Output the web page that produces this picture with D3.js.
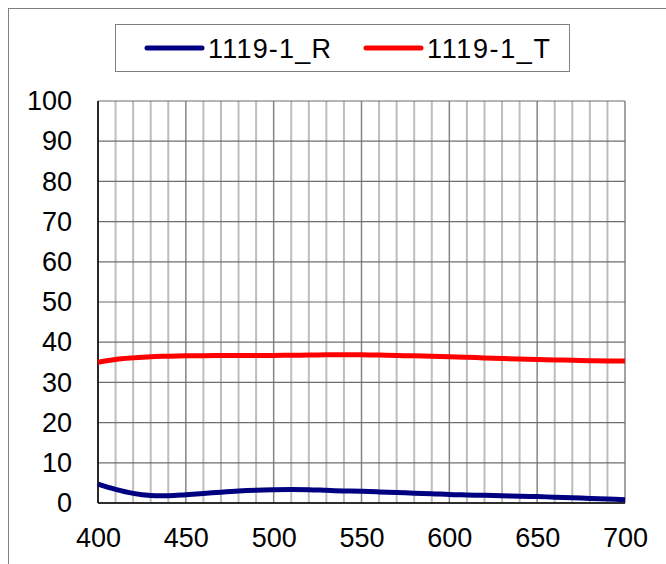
<!DOCTYPE html>
<html>
<head>
<meta charset="utf-8">
<script src="https://cdn.jsdelivr.net/npm/d3@7"></script>
<style>
  html, body { margin: 0; padding: 0; background: #fff; }
  svg { display: block; font-family: "Liberation Sans", Arial, sans-serif; }
</style>
</head>
<body>
<svg id="chart" width="666" height="564"></svg>
<script>
// Wavelength (nm) sample points
const wavelengths = [400, 410, 420, 430, 440, 450, 460, 470, 480, 490, 500, 510, 520, 530, 540, 550, 560, 570, 580, 590, 600, 610, 620, 630, 640, 650, 660, 670, 680, 690, 700];
// Reflectance (%)
const reflectR = [4.7, 3.4, 2.4, 1.85, 1.8, 2.05, 2.35, 2.7, 3.0, 3.2, 3.3, 3.35, 3.3, 3.15, 3.0, 2.9, 2.75, 2.6, 2.45, 2.3, 2.1, 2.0, 1.9, 1.8, 1.7, 1.6, 1.45, 1.3, 1.15, 1.0, 0.8];
// Transmittance (%)
const transT = [35.0, 35.7, 36.1, 36.4, 36.5, 36.6, 36.65, 36.7, 36.7, 36.7, 36.7, 36.75, 36.8, 36.85, 36.9, 36.85, 36.8, 36.7, 36.6, 36.5, 36.4, 36.25, 36.1, 35.95, 35.8, 35.7, 35.6, 35.5, 35.4, 35.35, 35.3];
const seriesNames = ["1119-1_R", "1119-1_T"];
const seriesColors = ["#000080", "#ff0000"];
const yTicks = [0, 10, 20, 30, 40, 50, 60, 70, 80, 90, 100];
const xTicks = [400, 450, 500, 550, 600, 650, 700];
const xMinor = d3.range(400, 701, 10);

const svg = d3.select("#chart");
const plot = { left: 98, right: 625, top: 101, bottom: 503 };

const x = d3.scaleLinear().domain([400, 700]).range([plot.left, plot.right]);
const y = d3.scaleLinear().domain([0, 100]).range([plot.bottom, plot.top]);

// Outer chart frame (runs past the page edge on right and bottom)
svg.append("rect")
  .attr("x", 8.5).attr("y", 8.5).attr("width", 700).attr("height", 600)
  .attr("fill", "none").attr("stroke", "#808080").attr("stroke-width", 1);

// Minor vertical gridlines every 10 nm
svg.append("g").selectAll("line")
  .data(xMinor.filter(d => d % 50 !== 0))
  .join("line")
  .attr("x1", d => x(d)).attr("x2", d => x(d))
  .attr("y1", plot.top).attr("y2", plot.bottom)
  .attr("stroke", "#bdbdbd").attr("stroke-width", 2);

// Major vertical gridlines every 50 nm
svg.append("g").selectAll("line")
  .data(xTicks)
  .join("line")
  .attr("x1", d => x(d)).attr("x2", d => x(d))
  .attr("y1", plot.top).attr("y2", plot.bottom)
  .attr("stroke", "#858585").attr("stroke-width", 1.5);

// Horizontal gridlines
svg.append("g").selectAll("line")
  .data(yTicks)
  .join("line")
  .attr("x1", plot.left).attr("x2", plot.right)
  .attr("y1", d => y(d)).attr("y2", d => y(d))
  .attr("stroke", "#6e6e6e").attr("stroke-width", 1.2);

// Axis lines
svg.append("line")
  .attr("x1", plot.left).attr("x2", plot.left)
  .attr("y1", plot.top).attr("y2", plot.bottom)
  .attr("stroke", "#000").attr("stroke-width", 1.5);
svg.append("line")
  .attr("x1", plot.left).attr("x2", plot.right)
  .attr("y1", plot.bottom).attr("y2", plot.bottom)
  .attr("stroke", "#000").attr("stroke-width", 1.5);

// Y axis labels
const yAxis = d3.axisLeft(y).tickValues(yTicks).tickSize(0).tickPadding(26);
svg.append("g")
  .attr("transform", `translate(${plot.left},0)`)
  .call(yAxis)
  .call(g => g.select(".domain").remove())
  .call(g => g.selectAll("text")
    .attr("font-size", 27).attr("fill", "#000")
    .attr("font-family", "'Liberation Sans', Arial, sans-serif"));

// X axis labels
const xAxis = d3.axisBottom(x).tickValues(xTicks).tickSize(0).tickPadding(25);
svg.append("g")
  .attr("transform", `translate(0,${plot.bottom})`)
  .call(xAxis)
  .call(g => g.select(".domain").remove())
  .call(g => g.selectAll("text")
    .attr("font-size", 27).attr("fill", "#000")
    .attr("font-family", "'Liberation Sans', Arial, sans-serif"));

// Data series
const series = [reflectR, transT];
const line = d3.line()
  .x((d, i) => x(wavelengths[i]))
  .y(d => y(d))
  .curve(d3.curveCatmullRom.alpha(0.5));

series.forEach((vals, k) => {
  svg.append("path")
    .datum(vals)
    .attr("d", line)
    .attr("fill", "none")
    .attr("stroke", seriesColors[k])
    .attr("stroke-width", 5)
    .attr("stroke-linejoin", "round");
});

// Legend
const legend = svg.append("g");
legend.append("rect")
  .attr("x", 115.5).attr("y", 24.5).attr("width", 454).attr("height", 47)
  .attr("fill", "#fff").attr("stroke", "#808080").attr("stroke-width", 1);
const legendX = [147, 366];
seriesNames.forEach((name, k) => {
  legend.append("line")
    .attr("x1", legendX[k]).attr("x2", legendX[k] + 55)
    .attr("y1", 48).attr("y2", 48)
    .attr("stroke", seriesColors[k]).attr("stroke-width", 5)
    .attr("stroke-linecap", "round");
  legend.append("text")
    .attr("x", legendX[k] + 61).attr("y", 58)
    .attr("font-size", 27).attr("fill", "#000")
    .attr("textLength", 123).attr("lengthAdjust", "spacing")
    .text(name);
});
</script>
</body>
</html>
